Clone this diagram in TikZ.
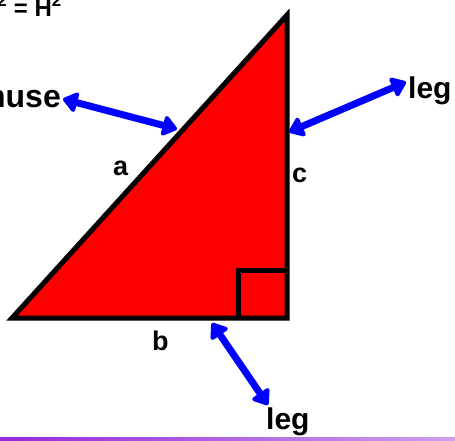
\documentclass[tikz,border=0pt]{standalone}
\usepackage{fontspec}
\setmainfont{Liberation Sans}
\usetikzlibrary{arrows.meta}
\definecolor{tri}{RGB}{255,0,0}
\definecolor{arr}{RGB}{0,0,255}
\definecolor{purpA}{RGB}{150,40,220}
\definecolor{purpB}{RGB}{205,160,235}
\tikzset{
  lbl/.style={inner sep=0pt, font=\fontsize{27}{30}\selectfont\bfseries},
  word/.style={inner sep=0pt, font=\fontsize{30}{34}\selectfont\bfseries},
  dblarrow/.style={draw=arr, line width=7pt,
    {Triangle[length=16pt,width=23pt,round]}-{Triangle[length=16pt,width=23pt,round]}},
  edge/.style={draw=black, line width=5pt, line join=miter}
}
\begin{document}
\begin{tikzpicture}[x=1pt,y=-1pt]
\clip (0,0) rectangle (455,440);
\fill[white] (0,0) rectangle (455,440);
% triangle
\coordinate (A) at (12,318);
\coordinate (B) at (287,15);
\coordinate (C) at (287,318);
\filldraw[fill=tri, edge] (A) -- (B) -- (C) -- cycle;
\coordinate (S1) at (238,318);
\coordinate (S2) at (238,270);
\coordinate (S3) at (287,270);
\draw[line width=5pt] (S1) -- (S2) -- (S3);
% formula (partly outside)
\node[inner sep=0pt, anchor=base east, font=\fontsize{24}{26}\selectfont\bfseries] (formula) at (62,16) {a\textsuperscript{2} + b\textsuperscript{2} = H\textsuperscript{2}};
% side labels
\node[lbl, anchor=base west] (la) at (113,175) {a};
\node[lbl, anchor=base west] (lc) at (292,182) {c};
\node[lbl, anchor=base west] (lb) at (152,350) {b};
% words
\node[word, anchor=base east, font=\fontsize{32}{34}\selectfont\bfseries] (hyp) at (61,107) {hypotenuse};
\node[word, anchor=base west] (leg1) at (408,98) {leg};
\node[word, anchor=base west] (leg2) at (266,429) {leg};
% arrow endpoints
\coordinate (h1) at (63,99);
\coordinate (h2) at (177,129);
\coordinate (r1) at (289,132);
\coordinate (r2) at (406,82);
\coordinate (b1) at (212,323);
\coordinate (b2) at (268,405);
\draw[dblarrow] (h1) -- (h2);
\draw[dblarrow] (r1) -- (r2);
\draw[dblarrow] (b1) -- (b2);
% bottom band
\shade[left color=purpA, right color=purpB] (0,437) rectangle (455,440);
\end{tikzpicture}
\end{document}
